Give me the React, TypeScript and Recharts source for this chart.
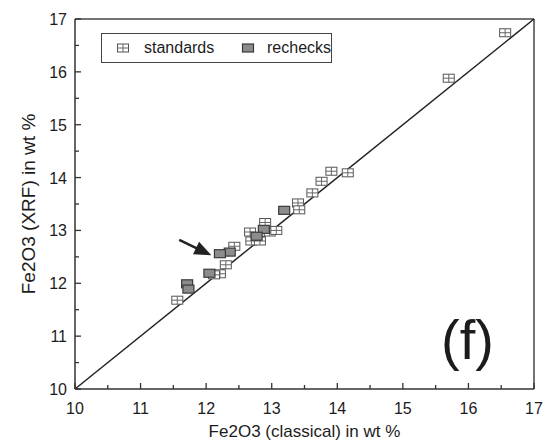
import { ReferenceLine, Scatter, ScatterChart, XAxis, YAxis } from "recharts";

const standardsX = [16.56, 15.7, 13.91, 14.16, 13.76, 13.62, 13.4, 13.42, 12.9, 12.67, 12.69, 12.82, 12.97, 13.07, 12.43, 12.3, 12.21, 12.12, 11.56];
const standardsY = [16.74, 15.88, 14.12, 14.09, 13.93, 13.71, 13.52, 13.39, 13.15, 12.97, 12.8, 12.8, 12.97, 13.0, 12.7, 12.35, 12.18, 12.16, 11.68];

const rechecksX = [13.19, 12.88, 12.77, 12.36, 12.21, 12.05, 11.71, 11.73];
const rechecksY = [13.38, 13.02, 12.89, 12.59, 12.56, 12.19, 11.99, 11.89];

const axisTicks = [10, 10.5, 11, 11.5, 12, 12.5, 13, 13.5, 14, 14.5, 15, 15.5, 16, 16.5, 17];
const arrowFrom = { x: 11.59, y: 12.82 };
const arrowTo = { x: 12.08, y: 12.53 };

const standards = standardsX.map((x, i) => ({ x, y: standardsY[i] }));
const rechecks = rechecksX.map((x, i) => ({ x, y: rechecksY[i] }));

const FONT = '"Liberation Sans", Arial, sans-serif';
const INK = "#1c1c1c";

function Box({ cx, cy, kind }: { cx: number; cy: number; kind: "std" | "re" }) {
  const w = 11;
  const h = 8;
  if (kind === "std") {
    return (
      <g>
        <rect x={cx - w / 2} y={cy - h / 2} width={w} height={h} fill="#fff" stroke="#555" strokeWidth={1} />
        <line x1={cx} y1={cy - h / 2} x2={cx} y2={cy + h / 2} stroke="#666" strokeWidth={1} />
        <line x1={cx - w / 2} y1={cy} x2={cx + w / 2} y2={cy} stroke="#666" strokeWidth={1} />
      </g>
    );
  }
  return <rect x={cx - w / 2} y={cy - h / 2} width={w} height={h} fill="#8c8c8c" stroke="#3a3a3a" strokeWidth={1.2} />;
}

function XTick({ x, y, payload }: any) {
  const major = Number.isInteger(payload.value);
  return (
    <g>
      <line x1={x} y1={y} x2={x} y2={y - (major ? 6 : 4)} stroke="#333" strokeWidth={1.3} />
      {major && (
        <text x={x} y={y + 25} textAnchor="middle" fontSize={16} fontFamily={FONT} fill={INK}>
          {payload.value}
        </text>
      )}
    </g>
  );
}

function YTick({ x, y, payload }: any) {
  const major = Number.isInteger(payload.value);
  return (
    <g>
      <line x1={x} y1={y} x2={x + (major ? 6 : 4)} y2={y} stroke="#333" strokeWidth={1.3} />
      {major && (
        <text x={x - 8} y={y + 6} textAnchor="end" fontSize={16} fontFamily={FONT} fill={INK}>
          {payload.value}
        </text>
      )}
    </g>
  );
}

function Arrow(props: any) {
  const { x1, y1, x2, y2 } = props;
  const ang = Math.atan2(y2 - y1, x2 - x1);
  const len = 17;
  const half = 7;
  const bx = x2 - len * Math.cos(ang);
  const by = y2 - len * Math.sin(ang);
  const px = -Math.sin(ang) * half;
  const py = Math.cos(ang) * half;
  return (
    <g>
      <line x1={x1} y1={y1} x2={bx + 2 * Math.cos(ang)} y2={by + 2 * Math.sin(ang)} stroke="#222" strokeWidth={2.5} />
      <polygon points={`${x2},${y2} ${bx + px},${by + py} ${bx - px},${by - py}`} fill="#222" />
    </g>
  );
}

export default function App() {
  return (
    <div style={{ position: "absolute", left: 0, top: 0, width: 545, height: 446, background: "#fff" }}>
      <ScatterChart width={545} height={446} margin={{ top: 19, right: 11, left: 35, bottom: 27 }}>
        <XAxis
          type="number"
          dataKey="x"
          domain={[10, 17]}
          ticks={axisTicks}
          interval={0}
          tickSize={0}
          tickMargin={0}
          height={30}
          tick={<XTick />}
          axisLine={{ stroke: "#333", strokeWidth: 1.5 }}
          label={{
            content: (p: any) => (
              <text x={p.viewBox.x + p.viewBox.width / 2} y={437} textAnchor="middle" fontSize={17} fontFamily={FONT} fill={INK}>
                Fe2O3 (classical) in wt %
              </text>
            ),
          }}
        />
        <YAxis
          type="number"
          dataKey="y"
          domain={[10, 17]}
          ticks={axisTicks}
          interval={0}
          tickSize={0}
          tickMargin={0}
          width={40}
          tick={<YTick />}
          axisLine={{ stroke: "#333", strokeWidth: 1.5 }}
          label={{
            content: (p: any) => {
              const cy = p.viewBox.y + p.viewBox.height / 2;
              return (
                <text x={28} y={cy} transform={`rotate(-90 28 ${cy})`} textAnchor="middle" dominantBaseline="central" fontSize={19} fontFamily={FONT} fill={INK}>
                  Fe2O3 (XRF) in wt %
                </text>
              );
            },
          }}
        />
        <ReferenceLine y={17} stroke="#444" strokeWidth={1.5} />
        <ReferenceLine x={17} stroke="#444" strokeWidth={1.5} />
        <ReferenceLine segment={[{ x: 10, y: 10 }, { x: 17, y: 17 }]} stroke="#222" strokeWidth={1.5} />
        <ReferenceLine segment={[arrowFrom, arrowTo]} shape={<Arrow />} />
        <Scatter data={standards} isAnimationActive={false} shape={(p: any) => <Box cx={p.cx} cy={p.cy} kind="std" />} />
        <Scatter data={rechecks} isAnimationActive={false} shape={(p: any) => <Box cx={p.cx} cy={p.cy} kind="re" />} />
      </ScatterChart>

      <div
        style={{
          position: "absolute",
          left: 101,
          top: 33,
          width: 231,
          height: 30,
          boxSizing: "border-box",
          border: "1.5px solid #444",
          fontFamily: FONT,
          fontSize: 16,
          color: INK,
          background: "#fff",
        }}
      >
        <svg width={14} height={12} style={{ position: "absolute", left: 14, top: 8 }}>
          <Box cx={7} cy={6} kind="std" />
        </svg>
        <span style={{ position: "absolute", left: 42, top: 4, lineHeight: "20px" }}>standards</span>
        <svg width={14} height={12} style={{ position: "absolute", left: 139, top: 8 }}>
          <Box cx={7} cy={6} kind="re" />
        </svg>
        <span style={{ position: "absolute", left: 165, top: 4, lineHeight: "20px" }}>rechecks</span>
      </div>

      <div
        style={{
          position: "absolute",
          left: 441,
          top: 312,
          fontFamily: FONT,
          fontSize: 56,
          lineHeight: "56px",
          color: INK,
        }}
      >
        (f)
      </div>
    </div>
  );
}
